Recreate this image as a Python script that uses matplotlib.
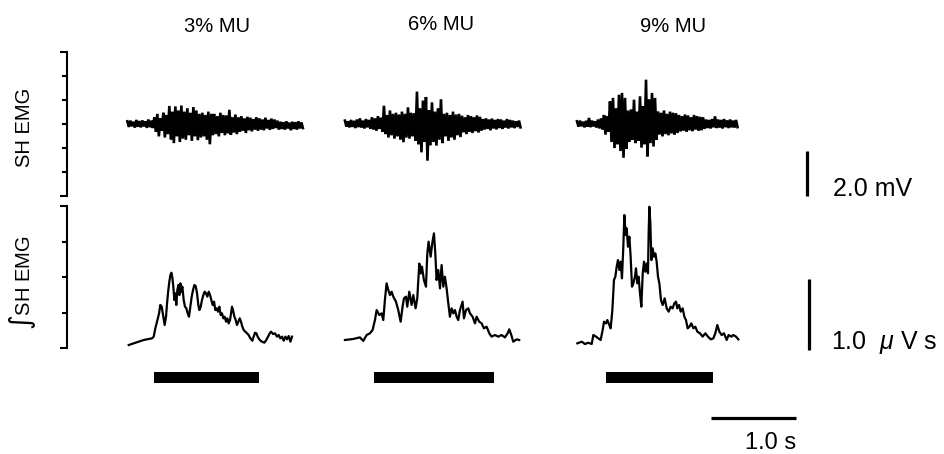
import numpy as np
import matplotlib.pyplot as plt

plt.rcParams["font.family"] = ["Liberation Sans", "DejaVu Sans"]
plt.rcParams["mathtext.fontset"] = "custom"
plt.rcParams["mathtext.it"] = "Liberation Sans:italic"
plt.rcParams["mathtext.rm"] = "Liberation Sans"

#######################################################
######################## DATA #########################
#######################################################

CONDITIONS = ["3% MU", "6% MU", "9% MU"]

# raw SH EMG, upper / lower excursion (mV) sampled every RAW_DT seconds
RAW_DT = 0.0353
RAW_HI_3 = [0.12, 0.15, 0.10, 0.18, 0.13, 0.16, 0.12, 0.20, 0.15,
            0.30, 0.45, 0.25, 0.50, 0.40,
            0.80, 0.55, 0.78, 0.60, 0.82,
            0.55, 0.70, 0.50, 0.75, 0.60, 0.45,
            0.50, 0.40, 0.55, 0.45,
            0.45, 0.35, 0.50, 0.40, 0.38, 0.63, 0.30, 0.42,
            0.30, 0.35, 0.25, 0.32, 0.28, 0.22, 0.30,
            0.25, 0.20, 0.28, 0.18, 0.24, 0.20, 0.15,
            0.10, 0.08, 0.12, 0.06, 0.10, 0.08, 0.12, 0.07]
RAW_LO_3 = [-0.13, -0.10, -0.16, -0.12, -0.15, -0.11, -0.17, -0.14, -0.18,
            -0.35, -0.55, -0.30, -0.60, -0.45,
            -0.70, -0.85, -0.55, -0.80, -0.65,
            -0.70, -0.50, -0.75, -0.55, -0.72, -0.60,
            -0.55, -0.70, -0.90, -0.50,
            -0.45, -0.55, -0.40, -0.50, -0.42, -0.48, -0.38, -0.45,
            -0.35, -0.30, -0.40, -0.28, -0.33, -0.25, -0.30,
            -0.25, -0.28, -0.20, -0.26, -0.22, -0.18, -0.25,
            -0.22, -0.25, -0.20, -0.28, -0.22, -0.25, -0.20, -0.18]
RAW_HI_6 = [0.15, 0.12, 0.18, 0.14, 0.20, 0.25, 0.15, 0.22, 0.18,
            0.30, 0.25, 0.35, 0.28,
            0.81, 0.40, 0.60, 0.45,
            0.50, 0.42, 0.55, 0.45, 0.74, 0.50, 0.48,
            1.44, 0.70, 1.04, 1.20,
            0.60, 0.96, 0.55, 0.70, 1.10,
            0.45, 0.50, 0.40, 0.55, 0.42, 0.45,
            0.37, 0.30, 0.40, 0.35, 0.30, 0.38, 0.32,
            0.22, 0.25, 0.20, 0.24, 0.18, 0.22, 0.20, 0.15, 0.22, 0.18, 0.15, 0.12, 0.15]
RAW_LO_6 = [-0.12, -0.15, -0.13, -0.18, -0.14, -0.16, -0.20, -0.15, -0.22,
            -0.25, -0.30, -0.22, -0.35,
            -0.45, -0.60, -0.50, -0.65,
            -0.55, -0.70, -0.81, -0.60, -0.65, -0.55, -0.75,
            -0.90, -1.26, -0.80, -1.63,
            -0.95, -0.80, -0.96, -0.70, -0.85,
            -0.55, -0.75, -0.60, -0.70, -0.50, -0.58,
            -0.37, -0.45, -0.35, -0.40, -0.32, -0.38, -0.30,
            -0.25, -0.22, -0.28, -0.20, -0.24, -0.18, -0.22, -0.16, -0.20, -0.15, -0.18, -0.13, -0.15]
RAW_HI_9 = [0.12, 0.15, 0.10, 0.14, 0.27, 0.15, 0.12, 0.20, 0.25,
            0.40, 0.35,
            1.00, 1.16, 0.70, 1.30, 1.38, 1.16,
            0.60, 0.65, 1.08, 0.55, 1.23,
            0.80, 1.97, 1.10, 1.38, 1.16,
            0.56, 0.50, 0.60, 0.45, 0.55, 0.50, 0.48,
            0.40, 0.35, 0.42, 0.38, 0.30, 0.40, 0.35, 0.32, 0.30,
            0.20, 0.18, 0.22, 0.34, 0.20, 0.18, 0.22, 0.16, 0.20, 0.15, 0.18]
RAW_LO_9 = [-0.12, -0.10, -0.15, -0.12, -0.14, -0.11, -0.16, -0.20, -0.25,
            -0.47, -0.35,
            -0.80, -1.07, -0.90, -1.20, -1.50, -1.10,
            -0.80, -0.70, -0.85, -0.75, -1.05,
            -0.90, -1.44, -0.85, -1.00, -0.70,
            -0.47, -0.55, -0.45, -0.50, -0.42, -0.48, -0.40,
            -0.33, -0.30, -0.35, -0.28, -0.32, -0.25, -0.30, -0.28, -0.22,
            -0.18, -0.20, -0.15, -0.18, -0.16, -0.20, -0.14, -0.18, -0.15, -0.16, -0.14]

# integrated SH EMG, (time from trace onset in s, value in uV s)
ISH_3 = [(0.016, 0.042), (0.075, 0.066), (0.133, 0.089), (0.192, 0.113), (0.251, 0.127),
         (0.290, 0.136), (0.310, 0.160), (0.329, 0.277), (0.349, 0.371), (0.373, 0.488),
         (0.388, 0.606), (0.404, 0.582), (0.420, 0.465), (0.439, 0.324), (0.455, 0.441),
         (0.467, 0.629), (0.482, 0.817), (0.494, 0.934), (0.506, 1.028), (0.518, 1.061),
         (0.529, 0.995), (0.541, 0.864), (0.553, 0.676), (0.565, 0.770), (0.576, 0.606),
         (0.588, 0.817), (0.600, 0.887), (0.612, 0.746), (0.624, 0.911), (0.635, 0.793),
         (0.647, 0.864), (0.663, 0.676), (0.678, 0.582), (0.694, 0.559), (0.710, 0.488),
         (0.725, 0.441), (0.741, 0.582), (0.757, 0.723), (0.773, 0.817), (0.788, 0.887),
         (0.804, 0.873), (0.820, 0.770), (0.835, 0.606), (0.847, 0.535), (0.863, 0.582),
         (0.878, 0.676), (0.894, 0.746), (0.910, 0.793), (0.925, 0.770), (0.941, 0.723),
         (0.957, 0.793), (0.973, 0.746), (0.988, 0.676), (1.004, 0.606), (1.020, 0.653),
         (1.035, 0.535), (1.051, 0.559), (1.067, 0.512), (1.082, 0.582), (1.098, 0.465),
         (1.114, 0.488), (1.129, 0.418), (1.145, 0.441), (1.161, 0.371), (1.176, 0.418),
         (1.192, 0.347), (1.208, 0.394), (1.220, 0.488), (1.231, 0.582), (1.243, 0.535),
         (1.259, 0.441), (1.275, 0.394), (1.290, 0.324), (1.306, 0.371), (1.322, 0.418),
         (1.337, 0.371), (1.353, 0.300), (1.369, 0.254), (1.388, 0.230), (1.408, 0.207),
         (1.427, 0.183), (1.447, 0.136), (1.471, 0.103), (1.486, 0.160), (1.502, 0.216),
         (1.518, 0.207), (1.533, 0.160), (1.557, 0.113), (1.584, 0.089), (1.612, 0.075),
         (1.635, 0.113), (1.655, 0.160), (1.675, 0.207), (1.690, 0.230), (1.714, 0.197),
         (1.737, 0.207), (1.761, 0.160), (1.780, 0.183), (1.800, 0.136), (1.820, 0.160),
         (1.839, 0.103), (1.859, 0.160), (1.878, 0.122), (1.898, 0.169), (1.918, 0.089),
         (1.937, 0.160)]
ISH_6 = [(0.000, 0.113), (0.098, 0.127), (0.176, 0.150), (0.216, 0.100), (0.255, 0.183),
         (0.294, 0.207), (0.325, 0.254), (0.353, 0.394), (0.373, 0.535), (0.404, 0.465),
         (0.431, 0.488), (0.451, 0.394), (0.470, 0.676), (0.490, 0.911), (0.510, 0.817),
         (0.530, 0.746), (0.549, 0.793), (0.569, 0.723), (0.600, 0.653), (0.627, 0.535),
         (0.655, 0.371), (0.678, 0.582), (0.694, 0.700), (0.718, 0.723), (0.733, 0.582),
         (0.757, 0.793), (0.784, 0.606), (0.804, 0.746), (0.831, 0.559), (0.851, 0.700),
         (0.863, 0.958), (0.875, 1.190), (0.890, 1.050), (0.906, 1.146), (0.929, 0.958),
         (0.953, 0.864), (0.969, 1.333), (0.984, 1.498), (1.008, 1.286), (1.027, 1.474),
         (1.047, 1.615), (1.063, 1.333), (1.078, 0.958), (1.098, 1.099), (1.118, 0.840),
         (1.137, 1.169), (1.157, 0.864), (1.176, 1.005), (1.196, 0.840), (1.216, 0.629),
         (1.235, 0.441), (1.255, 0.559), (1.275, 0.488), (1.294, 0.535), (1.314, 0.441),
         (1.333, 0.394), (1.353, 0.535), (1.384, 0.653), (1.400, 0.418), (1.424, 0.535),
         (1.451, 0.559), (1.471, 0.488), (1.502, 0.441), (1.530, 0.347), (1.549, 0.441),
         (1.580, 0.371), (1.608, 0.347), (1.635, 0.277), (1.667, 0.300), (1.698, 0.207),
         (1.725, 0.160), (1.765, 0.183), (1.804, 0.160), (1.843, 0.183), (1.882, 0.150),
         (1.914, 0.207), (1.933, 0.263), (1.957, 0.183), (1.980, 0.089), (2.020, 0.122),
         (2.050, 0.113)]
ISH_9 = [(0.004, 0.066), (0.055, 0.089), (0.094, 0.056), (0.133, 0.075), (0.173, 0.056),
         (0.192, 0.183), (0.224, 0.160), (0.251, 0.136), (0.278, 0.113), (0.302, 0.254),
         (0.318, 0.371), (0.341, 0.347), (0.357, 0.394), (0.380, 0.324), (0.396, 0.277),
         (0.416, 0.535), (0.435, 0.958), (0.451, 1.005), (0.467, 1.146), (0.482, 1.239),
         (0.498, 1.099), (0.514, 1.216), (0.529, 0.981), (0.545, 1.427), (0.557, 1.873),
         (0.573, 1.592), (0.584, 1.685), (0.600, 1.427), (0.616, 1.568), (0.631, 1.286),
         (0.647, 0.864), (0.663, 0.911), (0.682, 1.005), (0.694, 1.122), (0.710, 0.911),
         (0.725, 1.005), (0.741, 0.770), (0.757, 0.582), (0.773, 1.052), (0.788, 1.216),
         (0.804, 1.075), (0.820, 1.192), (0.835, 1.052), (0.843, 1.615), (0.851, 1.990),
         (0.863, 1.756), (0.875, 1.239), (0.890, 1.404), (0.906, 1.286), (0.922, 1.333),
         (0.937, 1.216), (0.953, 1.005), (0.969, 0.911), (0.988, 0.676), (1.008, 0.606),
         (1.031, 0.700), (1.055, 0.559), (1.078, 0.512), (1.102, 0.582), (1.125, 0.559),
         (1.145, 0.629), (1.165, 0.653), (1.180, 0.559), (1.200, 0.606), (1.220, 0.512),
         (1.243, 0.559), (1.263, 0.441), (1.282, 0.394), (1.302, 0.277), (1.322, 0.300),
         (1.345, 0.347), (1.369, 0.277), (1.392, 0.300), (1.416, 0.230), (1.447, 0.207),
         (1.478, 0.160), (1.510, 0.207), (1.541, 0.160), (1.573, 0.122), (1.604, 0.136),
         (1.627, 0.207), (1.651, 0.324), (1.675, 0.230), (1.702, 0.183), (1.729, 0.207),
         (1.761, 0.113), (1.784, 0.183), (1.816, 0.160), (1.839, 0.183), (1.871, 0.160),
         (1.898, 0.122)]

# stimulus periods (s, on the common time axis)
STIM_ON = [1.02, 3.61, 6.34]
STIM_OFF = [2.26, 5.02, 7.60]

# calibration bars
SCALE_MV = 2.0
SCALE_UVS = 1.0
SCALE_S = 1.0

#######################################################
####################### LAYOUT ########################
#######################################################

W, H = 944, 454
TRACE_ONSET = [0.71, 3.27, 6.0]
TITLE_X = [1.765, 4.40, 7.13]
TITLE_Y = [4.09, 4.16, 4.09]


def px_box(x0, y0, x1, y1):
    """Caja de ejes en fracción de figura a partir de píxeles."""
    return [x0 / W, 1 - y1 / H, (x1 - x0) / W, (y1 - y0) / H]


fig = plt.figure(figsize=(W / 100, H / 100), dpi=100)
ax_raw = fig.add_axes(px_box(67, 40, 944, 205))
ax_int = fig.add_axes(px_box(67, 200, 944, 454))

for ax in (ax_raw, ax_int):
    ax.set_xlim(0, 877 / 85)
    ax.patch.set_visible(False)
    for s in ("top", "right", "bottom"):
        ax.spines[s].set_visible(False)
    ax.spines["left"].set_linewidth(1.5)
    ax.set_xticks([])
    ax.tick_params(axis="y", which="both", direction="out", width=1.5,
                   labelleft=False, color="black")
    ax.tick_params(axis="y", which="major", length=5.2)
    ax.tick_params(axis="y", which="minor", length=3.6)

ax_raw.set_ylim(-3.6, 3.733)
ax_raw.spines["left"].set_bounds(-3.2, 3.2)
raw_ticks = np.linspace(-3.2, 3.2, 7)
ax_raw.set_yticks([raw_ticks[0], raw_ticks[-1]])
ax_raw.set_yticks(raw_ticks[1:-1], minor=True)

ax_int.set_ylim(-1.493, 2.085)
ax_int.spines["left"].set_bounds(0, 2)
int_ticks = np.linspace(0, 2, 5)
ax_int.set_yticks([int_ticks[0], int_ticks[-1]])
ax_int.set_yticks(int_ticks[1:-1], minor=True)

# raw EMG: zig-zag between the upper and lower excursions
raw_hi = [RAW_HI_3, RAW_HI_6, RAW_HI_9]
raw_lo = [RAW_LO_3, RAW_LO_6, RAW_LO_9]
for onset, hi, lo in zip(TRACE_ONSET, raw_hi, raw_lo):
    t = onset + np.arange(len(hi)) * RAW_DT
    x = np.column_stack([t, t + RAW_DT / 2]).ravel()
    y = np.column_stack([hi, lo]).ravel()
    ax_raw.plot(x, y, color="black", lw=1.9, solid_joinstyle="miter")

# integrated EMG
for onset, trace in zip(TRACE_ONSET, [ISH_3, ISH_6, ISH_9]):
    d = np.array(trace)
    ax_int.plot(onset + d[:, 0], d[:, 1], color="black", lw=1.6)

# stimulus bars
dur = np.array(STIM_OFF) - np.array(STIM_ON)
ax_int.barh(-0.415, dur, left=STIM_ON, height=0.155, color="black")

# titles
for x, y, name in zip(TITLE_X, TITLE_Y, CONDITIONS):
    ax_raw.text(x, y, name, ha="center", va="baseline", fontsize=14.5)

# calibration bars
ax_raw.plot([8.71, 8.71], [-3.2, -3.2 + SCALE_MV], color="black", lw=2.3,
            solid_capstyle="butt")
ax_raw.text(9.01, -3.2, "{:.1f} mV".format(SCALE_MV), fontsize=18, va="baseline")

ax_int.plot([8.73, 8.73], [-0.03, -0.03 + SCALE_UVS], color="black", lw=2.3,
            solid_capstyle="butt")
ax_int.text(8.99, -0.02, "{:.1f}  $\\mu$ V s".format(SCALE_UVS), fontsize=18,
            va="baseline")

ax_int.plot([7.58, 7.58 + SCALE_S], [-0.986, -0.986], color="black", lw=2.3,
            solid_capstyle="butt")
ax_int.text(7.58 + SCALE_S, -1.42, "{:.1f} s".format(SCALE_S), fontsize=17,
            ha="right", va="baseline")

# y labels
fig.text(24 / W, 1 - 127 / H, "SH EMG", rotation=90, ha="center", va="center",
         fontsize=14.5)
fig.text(22 / W, 1 - 283 / H, "$\\int$SH EMG", rotation=90, ha="center",
         va="center", fontsize=14.5, math_fontfamily="dejavusans")

fig.savefig("out.png", dpi=100)
